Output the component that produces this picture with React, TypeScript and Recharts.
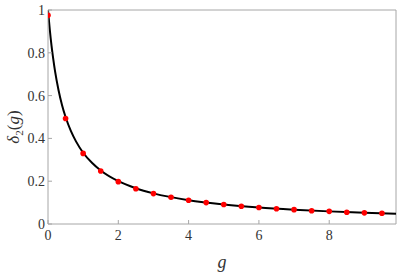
import { ComposedChart, Line, Scatter, XAxis, YAxis, ReferenceLine } from 'recharts';

// smooth curve samples
const curveG = [0, 0.05, 0.1, 0.15, 0.2, 0.3, 0.4, 0.5, 0.65, 0.8, 1, 1.25, 1.5, 2, 2.5, 3, 4, 5, 6, 7, 8, 9, 9.9];
const curveDelta = [1, 0.91, 0.833, 0.77, 0.714, 0.625, 0.555, 0.5, 0.435, 0.385, 0.333, 0.286, 0.25, 0.2, 0.167, 0.143, 0.111, 0.091, 0.077, 0.067, 0.059, 0.053, 0.048];

// red sample points
const pointG = [0, 0.5, 1, 1.5, 2, 2.5, 3, 3.5, 4, 4.5, 5, 5.5, 6, 6.5, 7, 7.5, 8, 8.5, 9, 9.5];
const pointDelta = [0.975, 0.493, 0.33, 0.248, 0.198, 0.165, 0.142, 0.125, 0.111, 0.1, 0.091, 0.083, 0.077, 0.071, 0.067, 0.062, 0.059, 0.055, 0.052, 0.05];

const xTicks = [0, 2, 4, 6, 8];
const yTicks = [0, 0.2, 0.4, 0.6, 0.8, 1];

const curve = curveG.map((g, i) => ({ g, d: curveDelta[i] }));
const points = pointG.map((g, i) => ({ g, d: pointDelta[i] }));

const font = 'Liberation Serif, Times New Roman, DejaVu Serif, Times, serif';
const axisColor = '#a6a6a6';

const XTick = (props: any) => {
  const { x, y, payload } = props;
  return (
    <g>
      <line x1={x} y1={y} x2={x} y2={y - 4} stroke={axisColor} />
      <text x={x} y={y + 16} textAnchor="middle" fontFamily={font} fontSize={14} fill="#333">
        {payload.value}
      </text>
    </g>
  );
};

const YTick = (props: any) => {
  const { x, y, payload } = props;
  return (
    <g>
      <line x1={x} y1={y} x2={x + 4} y2={y} stroke={axisColor} />
      <text x={x - 3} y={y + 5} textAnchor="end" fontFamily={font} fontSize={14} fill="#333">
        {payload.value}
      </text>
    </g>
  );
};

export default function App() {
  return (
    <div style={{ position: 'absolute', left: 0, top: 0, fontFamily: font }}>
      <ComposedChart width={397} height={273} margin={{ top: 10, right: 1, left: 0, bottom: 0 }} style={{ fontFamily: font }}>
        <XAxis
          dataKey="g"
          type="number"
          domain={[0, 9.9]}
          ticks={xTicks}
          allowDataOverflow
          height={49}
          stroke={axisColor}
          tickSize={0}
          tickMargin={0}
          tickLine={false}
          tick={<XTick />}
        />
        <YAxis
          dataKey="d"
          type="number"
          domain={[0, 1]}
          ticks={yTicks}
          width={48}
          stroke={axisColor}
          tickSize={0}
          tickMargin={0}
          tickLine={false}
          tick={<YTick />}
        />
        <ReferenceLine y={1} stroke={axisColor} />
        <ReferenceLine x={9.9} stroke={axisColor} />
        <Line
          data={curve}
          dataKey="d"
          type="monotone"
          stroke="#000"
          strokeWidth={2}
          dot={false}
          isAnimationActive={false}
        />
        <Scatter
          data={points}
          dataKey="d"
          fill="#ff0000"
          shape={(p: any) => <circle cx={p.cx} cy={p.cy} r={2.8} fill="#ff0000" />}
          isAnimationActive={false}
        />
        <text x={222} y={268} textAnchor="middle" fontFamily={font} fontSize={18} fontStyle="italic" fill="#333">
          g
        </text>
        <text
          transform="translate(19,127) rotate(-90)"
          textAnchor="middle"
          fontFamily={font}
          fontSize={17}
          fill="#333"
        >
          <tspan fontStyle="italic">δ</tspan>
          <tspan fontSize={11} dy={4}>2</tspan>
          <tspan dy={-4}>(</tspan>
          <tspan fontStyle="italic">g</tspan>
          <tspan>)</tspan>
        </text>
      </ComposedChart>
    </div>
  );
}
